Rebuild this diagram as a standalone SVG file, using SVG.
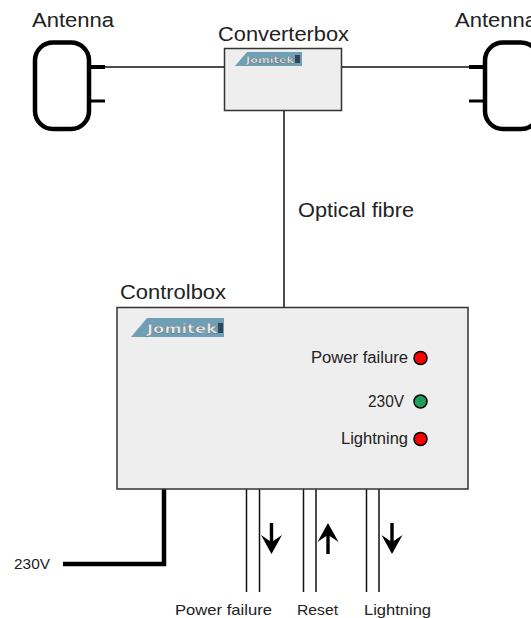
<svg xmlns="http://www.w3.org/2000/svg" width="531" height="618" viewBox="0 0 531 618">
<style>
text{font-family:"Liberation Sans",Arial,sans-serif;fill:#222}
.lg{font-size:20px}.md{font-size:16px}
.ant{fill:#fff;stroke:#000;stroke-width:4.5}
.box{fill:#eee;stroke:#333;stroke-width:1.5}
.w{fill:none;stroke:#111;stroke-width:1.5}
.stub{stroke:#000;fill:none}
.logo{fill:#6f9fb5}
.lt{font-family:"DejaVu Sans",sans-serif;font-weight:bold;fill:#e8e8e8;stroke:#444;stroke-width:.25}
.led{stroke:#000;stroke-width:1.5}
.arw{fill:#000}
</style>
<rect width="531" height="618" fill="#fff"/>
<g id="connectors">
<path class="w" d="M105 67H224M342 67H469M284 110V307"/>
<path class="w" d="M246.500 489V592M259.500 489V592M303.500 489V592M316 489V592M366.500 489V592M379 489V592"/>
<path d="M63 564H164V489" fill="none" stroke="#000" stroke-width="4.500"/>
<path class="arw" d="M269.800 523h3.400v18l8.800-6-10.500 19-10.500-19 8.800 6z"/>
<path class="arw" d="M326.300 554h3.400v-18l8.800 6-10.500-19-10.500 19 8.800-6z"/>
<path class="arw" d="M390.300 523h3.400v18l8.800-6-10.500 19-10.500-19 8.800 6z"/>
</g>
<g id="antenna-left">
<rect class="ant" x="35" y="42.500" width="54" height="86.500" rx="18"/>
<path class="stub" stroke-width="4" d="M90 67H105"/><path class="stub" stroke-width="3" d="M90 101H105"/>
<text class="lg" x="32" y="27" textLength="82" lengthAdjust="spacingAndGlyphs">Antenna</text>
</g>
<g id="antenna-right">
<rect class="ant" x="485" y="42.500" width="54" height="86.500" rx="18"/>
<path class="stub" stroke-width="4" d="M469 67H485"/><path class="stub" stroke-width="3" d="M469 101H485"/>
<text class="lg" x="455" y="27" textLength="82" lengthAdjust="spacingAndGlyphs">Antenna</text>
</g>
<g id="converterbox">
<rect class="box" x="224.500" y="48.500" width="117" height="62"/>
<path class="logo" d="M235 66L247 52H302V66Z"/>
<text class="lt" x="246" y="63" font-size="9" textLength="48" lengthAdjust="spacingAndGlyphs">Jomitek</text>
<rect x="295" y="55" width="5" height="8" fill="#345"/>
<text class="lg" x="218" y="41" textLength="131" lengthAdjust="spacingAndGlyphs">Converterbox</text>
</g>
<g id="optical-fibre"><text class="lg" x="298" y="217" textLength="116" lengthAdjust="spacingAndGlyphs">Optical fibre</text></g>
<g id="controlbox">
<rect class="box" x="117" y="307.500" width="351" height="181.500"/>
<path class="logo" d="M131 337L147 318H224V337Z"/>
<text class="lt" x="147" y="333" font-size="13" textLength="70" lengthAdjust="spacingAndGlyphs">Jomitek</text>
<rect x="218" y="323" width="5" height="10" fill="#345"/>
<text class="lg" x="120" y="299" textLength="106" lengthAdjust="spacingAndGlyphs">Controlbox</text>
<text class="md" x="311" y="363" textLength="97" lengthAdjust="spacingAndGlyphs">Power failure</text>
<circle class="led" cx="420.500" cy="358" r="6.500" fill="#f00"/>
<text class="md" x="368" y="407" textLength="36" lengthAdjust="spacingAndGlyphs">230V</text>
<circle class="led" cx="420.500" cy="401.500" r="6.500" fill="#1f9d5a"/>
<text class="md" x="341" y="444" textLength="67" lengthAdjust="spacingAndGlyphs">Lightning</text>
<circle class="led" cx="420.500" cy="439" r="6.500" fill="#f00"/>
</g>
<g id="labels">
<text x="14" y="569" font-size="14.500" textLength="36" lengthAdjust="spacingAndGlyphs">230V</text>
<text x="175" y="614.500" font-size="14.500" textLength="97" lengthAdjust="spacingAndGlyphs">Power failure</text>
<text x="297" y="614.500" font-size="14.500" textLength="41" lengthAdjust="spacingAndGlyphs">Reset</text>
<text x="364" y="614.500" font-size="14.500" textLength="67" lengthAdjust="spacingAndGlyphs">Lightning</text>
</g>
</svg>
